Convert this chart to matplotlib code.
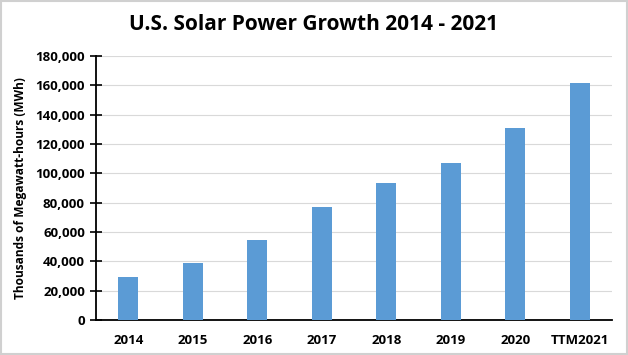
import matplotlib.pyplot as plt
import numpy as np
from matplotlib.ticker import FuncFormatter

plt.rcParams['font.family'] = ['Open Sans', 'DejaVu Sans']

# data
years = ['2014', '2015', '2016', '2017', '2018', '2019', '2020', 'TTM2021']
solar_mwh = [29000, 39000, 54600, 77000, 93500, 107000, 131000, 161500]

fig = plt.figure(figsize=(6.28, 3.55), dpi=100)
ax = fig.add_axes([0.153, 0.0986, 0.8215, 0.7434])

x = np.arange(len(years))
ax.bar(x, solar_mwh, width=0.31, color='#5b9bd5', zorder=3)

ax.set_xlim(-0.5, len(years) - 0.5)
ax.set_ylim(0, 180000)
ax.set_yticks(np.arange(0, 180001, 20000))
ax.yaxis.set_major_formatter(FuncFormatter(lambda v, p: f'{int(v):,}'))
ax.set_xticks(x)
ax.set_xticklabels(years)

ax.grid(axis='y', color='#d9d9d9', linewidth=0.8, zorder=0)
for s in ['top', 'right']:
    ax.spines[s].set_visible(False)
ax.spines['left'].set_linewidth(1.3)
ax.spines['bottom'].set_linewidth(1.3)
ax.tick_params(axis='y', direction='inout', length=8, width=1.2, labelsize=9.5, pad=4)
ax.tick_params(axis='x', length=0, pad=10, labelsize=9.5)
for lbl in ax.get_xticklabels() + ax.get_yticklabels():
    lbl.set_fontweight('bold')

ax.set_ylabel('Thousands of Megawatt-hours (MWh)', fontsize=8.6, fontweight='bold', labelpad=6)
fig.suptitle('U.S. Solar Power Growth 2014 - 2021', fontsize=15, fontweight='bold', y=0.96)

# thin border round the figure
fig.patches.append(plt.Rectangle((0.002, 0.003), 0.996, 0.994, transform=fig.transFigure,
                                 fill=False, edgecolor='#d0d0d0', linewidth=1.5))

fig.savefig('out.png', dpi=100)
